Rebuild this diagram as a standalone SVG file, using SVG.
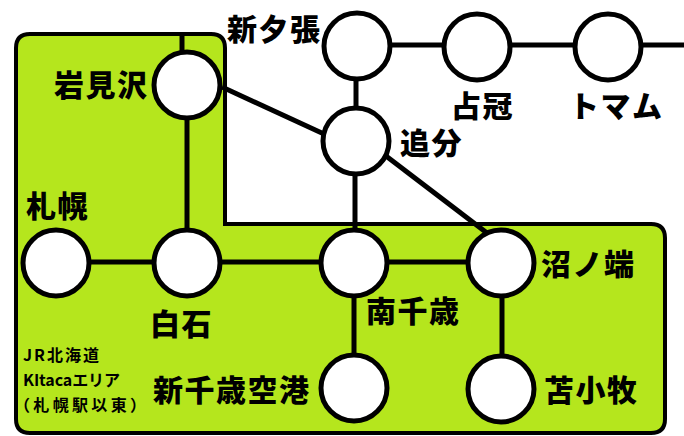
<svg xmlns="http://www.w3.org/2000/svg" width="684" height="436" viewBox="0 0 684 436">
<style>
.c{fill:none;stroke:#000;stroke-width:5}
.s{fill:#fff;stroke:#000;stroke-width:5}
.t{font-family:"Noto Sans CJK JP","Liberation Sans",sans-serif;font-weight:900;font-size:30px;letter-spacing:1.5px;fill:#000}
.m{font-family:"Noto Sans CJK JP","Liberation Sans",sans-serif;font-weight:700;font-size:16px;fill:#000}
</style>
<rect width="684" height="436" fill="#fff"/>
<path id="area" d="M30 34H211Q225 34 225 48V224H651Q665 224 665 238V419Q665 433 651 433H30Q16 433 16 419V48Q16 34 30 34Z" fill="#b5e61d" stroke="#000" stroke-width="4"/>
<g id="connectors" class="c">
<path d="M182 34V52"/><path d="M187 118V230"/><path d="M222 87L324 134"/>
<path d="M390 45H444M511 45H575M642 45H684"/><path d="M356 80V108"/><path d="M355 175V230"/>
<path d="M386 156L487 233"/><path d="M90 262H153M221 262H320M388 262H467"/><path d="M354 297V355"/><path d="M502 297V356"/>
</g>
<g id="iwamizawa"><circle class="s" cx="187" cy="85" r="33"/><text class="t" x="54" y="96">岩見沢</text></g>
<g id="shinyubari"><circle class="s" cx="357" cy="46" r="33"/><text class="t" x="227" y="40">新夕張</text></g>
<g id="shimukappu"><circle class="s" cx="477" cy="47" r="33"/><text class="t" x="451" y="117">占冠</text></g>
<g id="tomamu"><circle class="s" cx="608" cy="47" r="33"/><text class="t" x="569" y="117">トマム</text></g>
<g id="oiwake"><circle class="s" cx="356" cy="141" r="33"/><text class="t" x="400" y="154">追分</text></g>
<g id="sapporo"><circle class="s" cx="56" cy="263" r="33"/><text class="t" x="26" y="217">札幌</text></g>
<g id="shiroishi"><circle class="s" cx="187" cy="263" r="33"/><text class="t" x="150" y="335">白石</text></g>
<g id="minamichitose"><circle class="s" cx="354" cy="263" r="33"/><text class="t" x="366" y="322">南千歳</text></g>
<g id="numanohata"><circle class="s" cx="501" cy="263" r="33"/><text class="t" x="541" y="275">沼ノ端</text></g>
<g id="airport"><circle class="s" cx="354" cy="388" r="33"/><text class="t" x="153" y="401">新千歳空港</text></g>
<g id="tomakomai"><circle class="s" cx="501" cy="389" r="33"/><text class="t" x="544" y="401">苫小牧</text></g>
<g id="note"><text class="m" x="23" y="361" textLength="76">JR北海道</text><text class="m" x="23" y="386" textLength="97">KItacaエリア</text><text class="m" x="14" y="411" textLength="132">（札幌駅以東）</text></g>
</svg>
